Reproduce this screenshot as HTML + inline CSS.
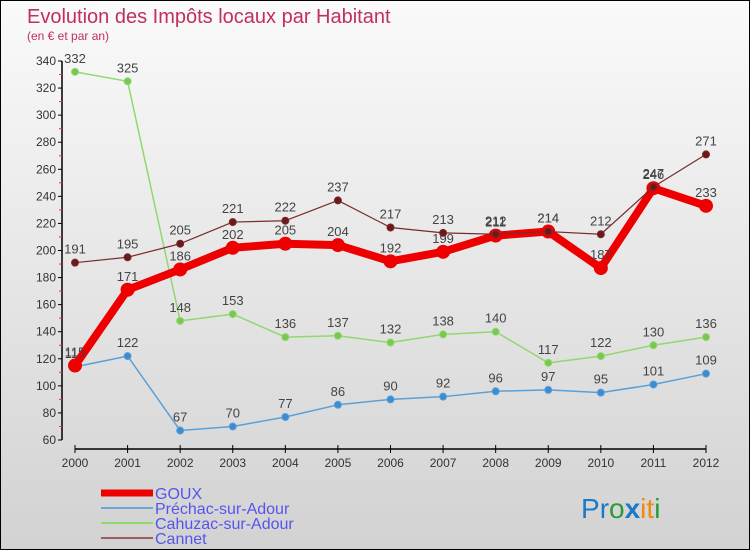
<!DOCTYPE html>
<html><head><meta charset="utf-8">
<style>
html,body{margin:0;padding:0}
body{width:750px;height:550px;overflow:hidden;font-family:"Liberation Sans","DejaVu Sans",sans-serif}
#wrap{position:relative;width:748px;height:548px;border:1px solid #000;background:linear-gradient(#fafafa,#d2d2d2)}
</style></head><body>
<div id="wrap">
<svg id="chart" width="748" height="548" style="position:absolute;left:0;top:0">
<text x="26" y="22" font-size="20" fill="#c0305a" style="font-family:'Liberation Sans',sans-serif">Evolution des Impôts locaux par Habitant</text>
<text x="26" y="39" font-size="12" fill="#c0305a">(en € et par an)</text>
<g id="axes"></g><g id="series"></g><g id="legend"></g>
<text x="580" y="517" font-size="28"><tspan fill="#1a7ac8">P</tspan><tspan fill="#1a7ac8">r</tspan><tspan fill="#2a9a3a">o</tspan><tspan fill="#1a7ac8" font-weight="bold">x</tspan><tspan fill="#f08a10">i</tspan><tspan fill="#f08a10">t</tspan><tspan fill="#2a9a3a">i</tspan></text>
</svg>
</div>
<script>
const years=[2000,2001,2002,2003,2004,2005,2006,2007,2008,2009,2010,2011,2012];
const goux=[115,171,186,202,205,204,192,199,211,214,187,246,233];
const prechac=[114,122,67,70,77,86,90,92,96,97,95,101,109];
const cahuzac=[332,325,148,153,136,137,132,138,140,117,122,130,136];
const cannet=[191,195,205,221,222,237,217,213,212,214,212,247,271];
const yTicks=[60,80,100,120,140,160,180,200,220,240,260,280,300,320,340];
const NS="http://www.w3.org/2000/svg";
const x=i=>74+i*(705-74)/(years.length-1);
const y=v=>439-(v-60)*(379/280);
function mk(t,a,p){const e=document.createElementNS(NS,t);for(const k in a)e.setAttribute(k,a[k]);p.appendChild(e);return e;}
const axes=document.getElementById('axes');
const ya=mk('line',{x1:61,y1:y(340),x2:61,y2:y(60),stroke:'#000','stroke-width':1.5},axes);

yTicks.forEach(v=>{
 mk('line',{x1:57,x2:61,y1:y(v),y2:y(v),stroke:'#000'},axes);
 mk('line',{x1:58,x2:61,y1:y(v+10),y2:y(v+10),stroke:'#e33'},axes).style.display=v<340?'':'none';
 const t=mk('text',{x:55,y:y(v)+4,'font-size':12,'text-anchor':'end',fill:'#333'},axes);t.textContent=v;
 
});
const xa=mk('line',{x1:x(0),x2:x(12),y1:448,y2:448,stroke:'#000','stroke-width':1.5},axes);

years.forEach((yr,i)=>{
 mk('line',{x1:x(i),x2:x(i),y1:444,y2:452,stroke:'#000'},axes);
 const t=mk('text',{x:x(i),y:466,'font-size':12,'text-anchor':'middle',fill:'#333'},axes);t.textContent=yr;
 
});
const sg=document.getElementById('series');
function series(name,vals,color,w,r,dot){
 const g=mk('g',{},sg);
 mk('polyline',{points:vals.map((v,i)=>x(i)+','+y(v)).join(' '),fill:'none',stroke:color,'stroke-width':w,'stroke-linejoin':'round'},g);
 vals.forEach((v,i)=>{
  const c=mk('circle',{cx:x(i),cy:y(v),r:r,fill:dot,stroke:color,'stroke-width':1},g);
  
  const t=mk('text',{x:x(i),y:y(v)-9,'font-size':13,'text-anchor':'middle',fill:'#444'},g);t.textContent=v;
  
 });
}
series('prechac',prechac,'#5aa0d8',1.5,3.5,'#3c8cd0');
series('cahuzac',cahuzac,'#90d870',1.5,3.5,'#78c850');
series('goux',goux,'#ee0000',8,6.5,'#ee0000');
series('cannet',cannet,'#7a2a2a',1.2,3.5,'#6a1a1a');
const lg=document.getElementById('legend');
[['GOUX','#ee0000',7],['Préchac-sur-Adour','#6aa6d8',2],['Cahuzac-sur-Adour','#90d870',2],['Cannet','#9a6060',2]].forEach((e,i)=>{
 const yy=492+i*15;
 const l=mk('line',{x1:100,x2:152,y1:yy,y2:yy,stroke:e[1],'stroke-width':e[2]},lg);
 
 const t=mk('text',{x:154,y:yy+6,'font-size':16,fill:'#5555ee'},lg);t.textContent=e[0];
 
});
</script>
</body></html>
